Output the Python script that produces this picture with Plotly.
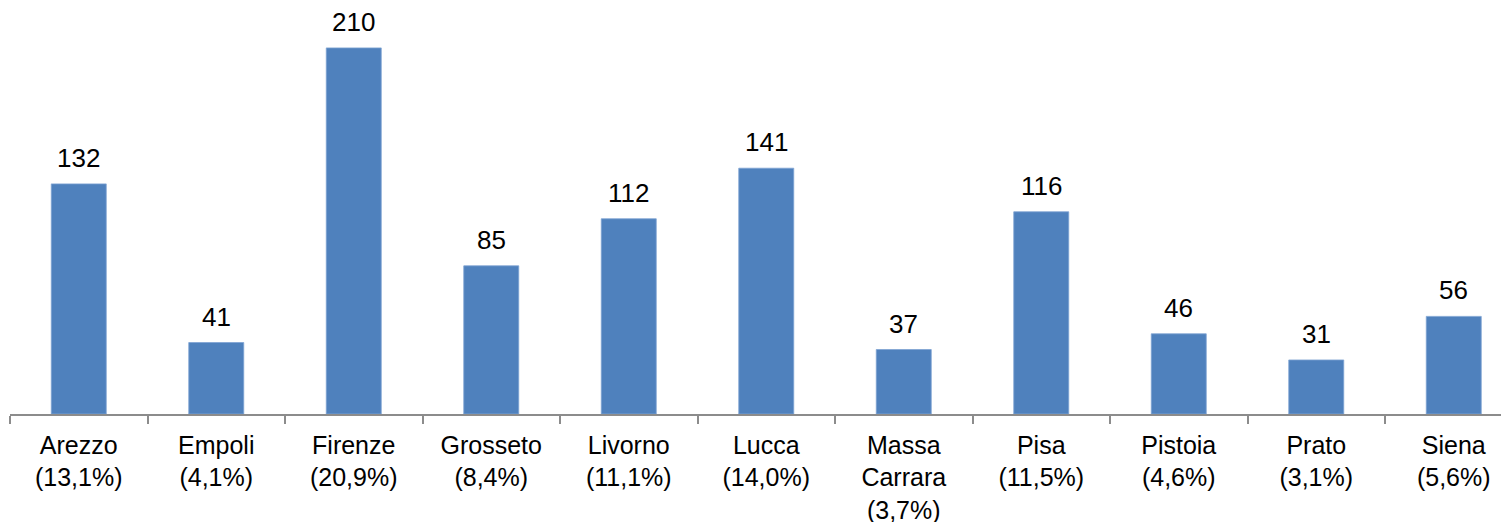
import plotly.graph_objects as go

categories = ["Arezzo<br>(13,1%)", "Empoli<br>(4,1%)", "Firenze<br>(20,9%)", "Grosseto<br>(8,4%)",
              "Livorno<br>(11,1%)", "Lucca<br>(14,0%)", "Massa<br>Carrara<br>(3,7%)", "Pisa<br>(11,5%)",
              "Pistoia<br>(4,6%)", "Prato<br>(3,1%)", "Siena<br>(5,6%)"]
values = [132, 41, 210, 85, 112, 141, 37, 116, 46, 31, 56]

FONT = "Liberation Sans, Arial, sans-serif"

fig = go.Figure()
fig.add_trace(go.Bar(
    x=categories, y=values,
    marker=dict(color="#4F81BD", line=dict(color="#7FA3D3", width=0.8)),
    width=0.4,
    hoverinfo="skip",
))

for c, v in zip(categories, values):
    fig.add_annotation(x=c, y=v, text=str(v), showarrow=False, yanchor="bottom",
                       yshift=9, font=dict(family=FONT, size=26, color="#000000"))

fig.update_layout(
    width=1509, height=522,
    margin=dict(l=2, r=0, t=0, b=116),
    plot_bgcolor="white", paper_bgcolor="white",
    showlegend=False,
    font=dict(family=FONT, size=26, color="#000000"),
    xaxis=dict(
        range=[-0.5, 10.46],
        showline=True, linecolor="#8C8C8C", linewidth=1.5,
        ticks="outside", tickson="boundaries", ticklen=8, tickcolor="#8C8C8C", tickwidth=1.5,
        ticklabelstandoff=8,
        showgrid=False, tickfont=dict(family=FONT, size=25, color="#000000"),
        automargin=False,
        fixedrange=True,
    ),
    yaxis=dict(
        range=[0, 232.9], visible=False, showgrid=False, zeroline=False, fixedrange=True,
    ),
)

fig.write_html("out.html")
